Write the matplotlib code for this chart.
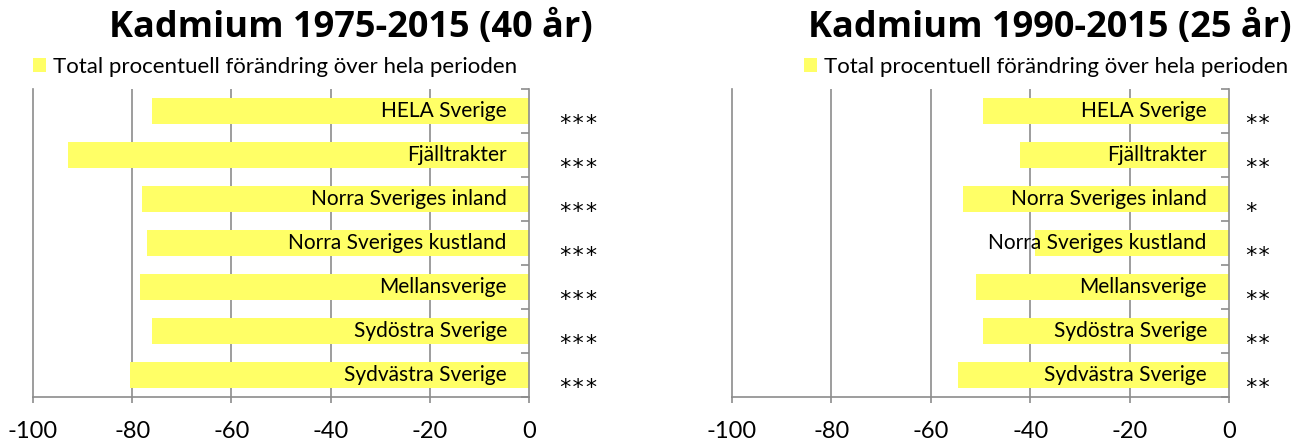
import matplotlib.pyplot as plt
from matplotlib.patches import Patch

regions = ['HELA Sverige', 'Fjälltrakter', 'Norra Sveriges inland',
           'Norra Sveriges kustland', 'Mellansverige', 'Sydöstra Sverige',
           'Sydvästra Sverige']

# total percent change, 1975-2015 and 1990-2015
change_40 = [-76, -93, -78, -77, -78.5, -76, -80.5]
change_25 = [-49.5, -42, -53.5, -39, -51, -49.5, -54.5]

stars_40 = ['***', '***', '***', '***', '***', '***', '***']
stars_25 = ['**', '**', '*', '**', '**', '**', '**']

titles = ['Kadmium 1975-2015 (40 år)', 'Kadmium 1990-2015 (25 år)']
legend_label = 'Total procentuell förändring över hela perioden'
xticks = [-100, -80, -60, -40, -20, 0]

bar_color = '#FFFF66'
grid_color = '#8c8c8c'
font = 'Lato'

fig = plt.figure(figsize=(13.09, 4.44), dpi=100)
axes = [fig.add_axes([33 / 1309, 1 - 397 / 444, 496 / 1309, 308 / 444]),
        fig.add_axes([732 / 1309, 1 - 397 / 444, 497 / 1309, 308 / 444])]

# (values, significance stars, star offset in pt, legend x in axes coords)
setups = [(change_40, stars_40, 21, 0.0), (change_25, stars_25, 11, 0.145)]

for ax, title, (values, stars, star_off, leg_x) in zip(axes, titles, setups):
    y = list(range(len(regions)))
    ax.barh(y, values, height=0.59, color=bar_color, zorder=2)
    ax.set_xlim(-100, 0)
    ax.set_ylim(len(regions) - 0.5, -0.5)

    for g in xticks[1:-1]:
        ax.axvline(g, color=grid_color, lw=1.2, zorder=1)

    for side in ['left', 'right', 'bottom']:
        ax.spines[side].set_color(grid_color)
        ax.spines[side].set_linewidth(1.2)
    ax.spines['left'].set_zorder(1)
    ax.spines['top'].set_visible(False)

    ax.set_xticks(xticks)
    ax.set_xticklabels([str(t) for t in xticks], fontsize=17, family=font)
    ax.tick_params(axis='x', direction='out', length=4.5, width=1.2,
                   color=grid_color, pad=12.5)

    # category axis sits at 0 on the right, ticks between the bars
    ax.yaxis.tick_right()
    ax.set_yticks([i - 0.5 for i in range(len(regions) + 1)])
    ax.set_yticklabels([])
    ax.tick_params(axis='y', direction='in', length=6, width=1.2,
                   color=grid_color)

    for i, name in enumerate(regions):
        ax.annotate(name, xy=(0, i), xytext=(-16, 0), textcoords='offset points',
                    ha='right', va='center', fontsize=15, family=font, zorder=3)
        ax.annotate(stars[i], xy=(0, i), xytext=(star_off, -9.5),
                    textcoords='offset points', ha='left', va='center',
                    fontsize=16, family='DejaVu Sans Mono',
                    annotation_clip=False)

    ax.text(0.64, 1.169, title, transform=ax.transAxes, ha='center',
            va='baseline', fontsize=26, fontweight='bold', family='Open Sans')

    handle = Patch(facecolor=bar_color, edgecolor='none')
    ax.legend([handle], [legend_label], loc='center left',
              bbox_to_anchor=(leg_x, 1.071), frameon=False, borderpad=0,
              borderaxespad=0, handlelength=0.6, handleheight=0.6,
              handletextpad=0.3, prop={'family': font, 'size': 16})

fig.savefig('out.png', dpi=100)
